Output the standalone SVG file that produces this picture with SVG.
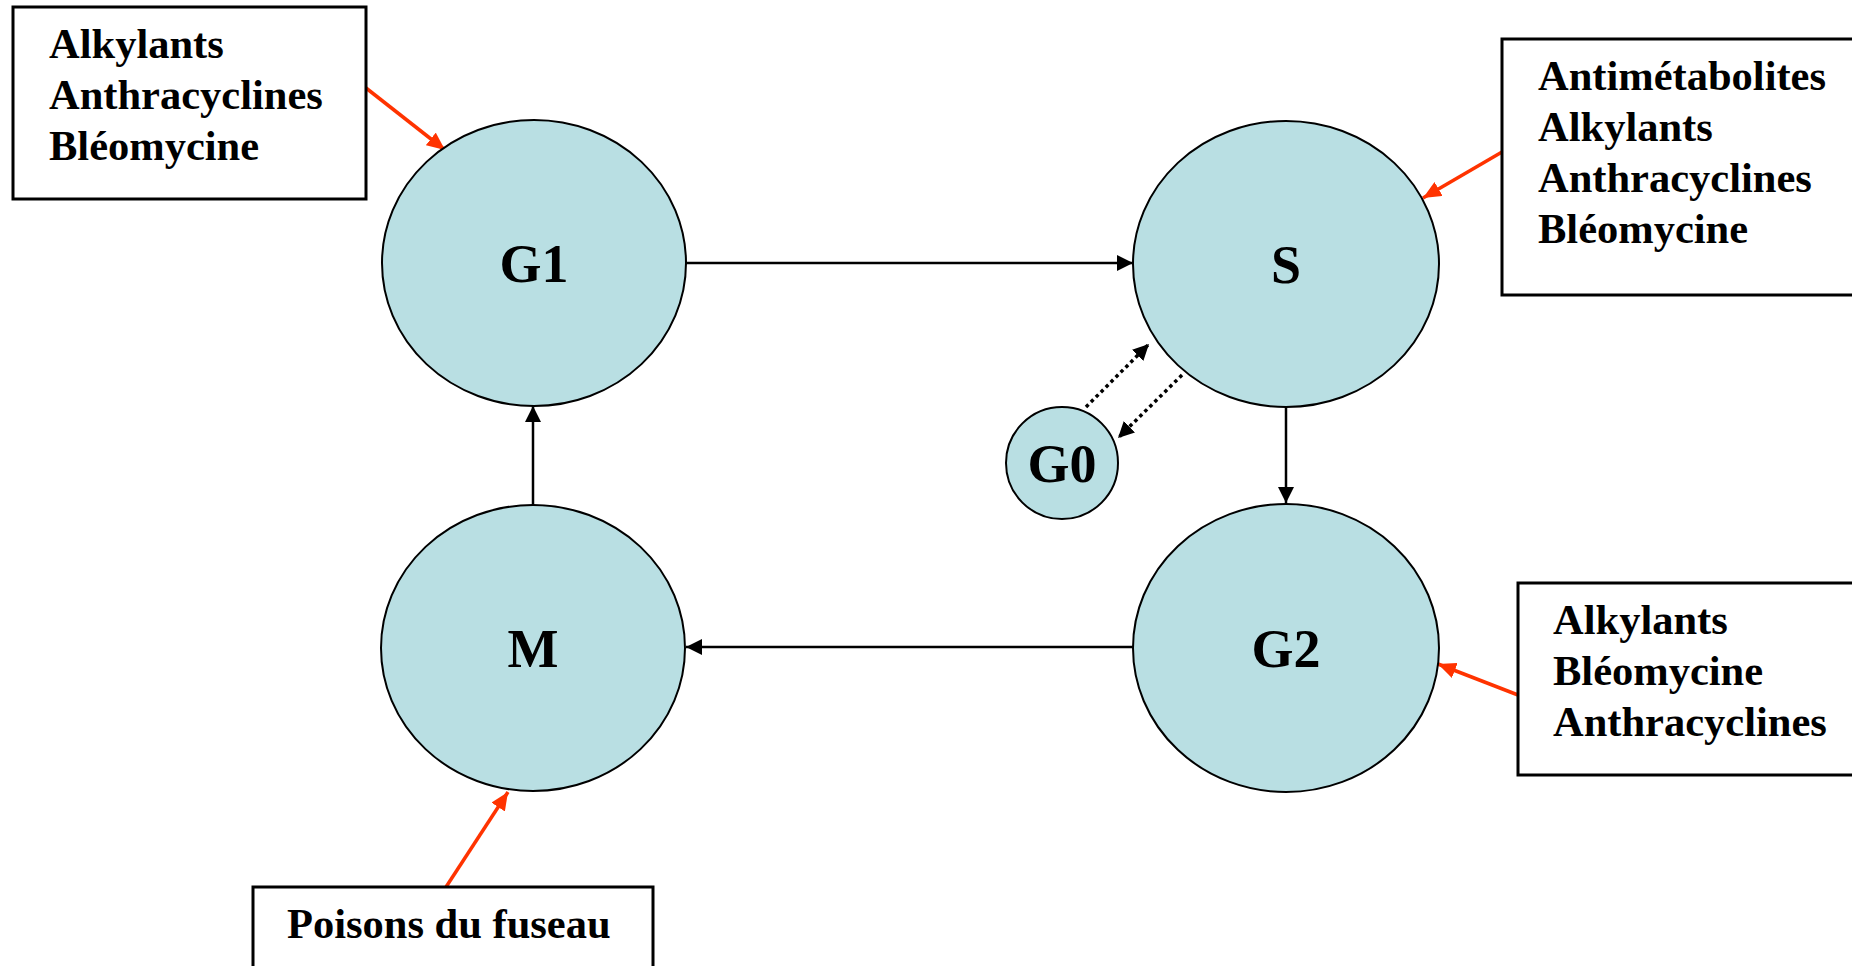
<svg xmlns="http://www.w3.org/2000/svg" width="1852" height="966" viewBox="0 0 1852 966">
<style>
.phase{fill:#B9DFE3;stroke:#000;stroke-width:2}
.box{fill:#fff;stroke:#000;stroke-width:3}
.lbl{font-family:"Liberation Serif","Times New Roman",serif;font-weight:bold;font-size:42.5px;fill:#000}
.nlbl{font-family:"Liberation Serif","Times New Roman",serif;font-weight:bold;font-size:54px;fill:#000;text-anchor:middle}
.flow{stroke:#000;stroke-width:2.5;fill:none}
.dot{stroke:#000;stroke-width:3.5;fill:none;stroke-dasharray:3.5 3.5}
.red{stroke:#FF3300;stroke-width:3.5;fill:none}
</style>
<defs>
<marker id="ah" markerUnits="userSpaceOnUse" markerWidth="18" markerHeight="16" refX="16" refY="8" orient="auto"><path d="M0,0 L16,8 L0,16 Z" fill="#000"/></marker>
<marker id="ahr" markerUnits="userSpaceOnUse" markerWidth="20" markerHeight="16" refX="18" refY="8" orient="auto"><path d="M0,0 L18,8 L0,16 Z" fill="#FF3300"/></marker>
</defs>
<rect width="1852" height="966" fill="#fff"/>
<g id="connectors">
<line class="flow" x1="686" y1="263" x2="1133" y2="263" marker-end="url(#ah)"/>
<line class="flow" x1="1286" y1="407" x2="1286" y2="503" marker-end="url(#ah)"/>
<line class="flow" x1="1133" y1="647" x2="686" y2="647" marker-end="url(#ah)"/>
<line class="flow" x1="533" y1="505" x2="533" y2="406" marker-end="url(#ah)"/>
<line class="dot" x1="1086" y1="407" x2="1149" y2="344" marker-end="url(#ah)"/>
<line class="dot" x1="1182" y1="375" x2="1118" y2="438" marker-end="url(#ah)"/>
<line class="red" x1="366" y1="88" x2="445" y2="150" marker-end="url(#ahr)"/>
<line class="red" x1="1502" y1="152" x2="1423" y2="198" marker-end="url(#ahr)"/>
<line class="red" x1="1518" y1="695" x2="1438" y2="664" marker-end="url(#ahr)"/>
<line class="red" x1="446" y1="887" x2="508" y2="792" marker-end="url(#ahr)"/>
</g>
<g id="G1"><ellipse class="phase" cx="534" cy="263" rx="152" ry="143"/><text class="nlbl" x="534" y="282">G1</text></g>
<g id="S"><ellipse class="phase" cx="1286" cy="264" rx="153" ry="143"/><text class="nlbl" x="1286" y="283">S</text></g>
<g id="M"><ellipse class="phase" cx="533" cy="648" rx="152" ry="143"/><text class="nlbl" x="533" y="667">M</text></g>
<g id="G2"><ellipse class="phase" cx="1286" cy="648" rx="153" ry="144"/><text class="nlbl" x="1286" y="667">G2</text></g>
<g id="G0"><ellipse class="phase" cx="1062" cy="463" rx="56" ry="56"/><text class="nlbl" x="1062" y="482">G0</text></g>
<g id="box-g1">
<rect class="box" x="13" y="7" width="353" height="192"/>
<text class="lbl" x="49" y="58">Alkylants</text>
<text class="lbl" x="49" y="109">Anthracyclines</text>
<text class="lbl" x="49" y="160">Bléomycine</text>
</g>
<g id="box-s">
<rect class="box" x="1502" y="39" width="360" height="256"/>
<text class="lbl" x="1538" y="90">Antimétabolites</text>
<text class="lbl" x="1538" y="141">Alkylants</text>
<text class="lbl" x="1538" y="192">Anthracyclines</text>
<text class="lbl" x="1538" y="243">Bléomycine</text>
</g>
<g id="box-g2">
<rect class="box" x="1518" y="583" width="344" height="192"/>
<text class="lbl" x="1553" y="634">Alkylants</text>
<text class="lbl" x="1553" y="685">Bléomycine</text>
<text class="lbl" x="1553" y="736">Anthracyclines</text>
</g>
<g id="box-m">
<rect class="box" x="253" y="887" width="400" height="90"/>
<text class="lbl" x="287" y="938">Poisons du fuseau</text>
</g>
</svg>
